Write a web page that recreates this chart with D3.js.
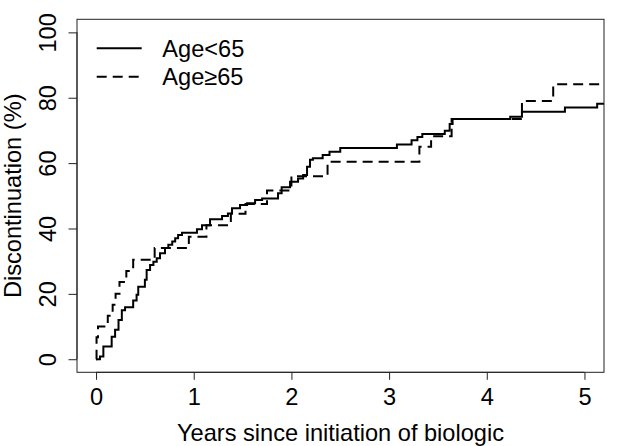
<!DOCTYPE html>
<html>
<head>
<meta charset="utf-8">
<script src="https://cdn.jsdelivr.net/npm/d3@7"></script>
<style>
  html, body { margin: 0; padding: 0; background: #fff; }
  svg { display: block; }
  text { font-family: "Liberation Sans", Arial, Helvetica, sans-serif; fill: #000; }
</style>
</head>
<body>
<svg id="chart" width="624" height="446"></svg>
<script>
// ---- data ----
const seriesNames = ["Age<65", "Age\u226565"];
const ageLt65Times  = [0, 0.04, 0.075, 0.16, 0.195, 0.23, 0.264, 0.297, 0.38, 0.415, 0.432, 0.5, 0.518, 0.553, 0.587, 0.621, 0.655, 0.706, 0.74, 0.78, 0.81, 0.84, 0.88, 1.033, 1.085, 1.167, 1.29, 1.35, 1.392, 1.474, 1.546, 1.628, 1.7, 1.863, 1.9, 1.986, 2.068, 2.12, 2.16, 2.19, 2.22, 2.32, 2.39, 2.5, 3.08, 3.23, 3.29, 3.34, 3.57, 3.62, 3.65, 4.24, 4.36, 4.8, 5.13, 5.2];
const ageLt65Values = [0, 0.8, 3.9, 6.9, 9, 12, 15, 15.9, 18, 19.7, 22.2, 24.3, 27.3, 28.8, 29.8, 30.9, 32.4, 34, 35, 36, 37, 38, 38.7, 39.8, 41, 42.8, 43.8, 44.6, 46.2, 47.2, 47.7, 48.7, 49.2, 50.8, 52.6, 54.3, 55.3, 56.4, 58.9, 61, 61.5, 62.5, 63.5, 64.6, 65.7, 67, 68, 68.9, 69.9, 72, 73.5, 74.2, 75.7, 77, 78.2, 78.2];
const ageGe65Times  = [0, 0.005, 0.02, 0.12, 0.17, 0.2, 0.24, 0.31, 0.38, 0.6, 0.95, 1.13, 1.38, 1.53, 1.75, 2.0, 2.37, 3.31, 3.43, 3.64, 4.36, 4.68, 5.2];
const ageGe65Values = [0, 6.7, 10, 13.3, 16.7, 20, 23.6, 27, 30.4, 34, 37.5, 41, 44.5, 47.5, 51.6, 56, 60.4, 65, 68.2, 73.5, 79, 84.1, 84.1];
const xTicks = [0, 1, 2, 3, 4, 5];
const yTicks = [0, 20, 40, 60, 80, 100];
const xLabel = "Years since initiation of biologic";
const yLabel = "Discontinuation (%)";

// ---- layout ----
const plot = { left: 77, right: 604, top: 19.3, bottom: 372.3 };
const fs = 23.6;
const svg = d3.select("#chart");

const x = d3.scaleLinear().domain([-0.195, 5.2]).range([plot.left, plot.right]);
const y = d3.scaleLinear().domain([-4, 104]).range([plot.bottom, plot.top]);

// clip
svg.append("defs").append("clipPath").attr("id", "clip")
  .append("rect")
  .attr("x", plot.left).attr("y", plot.top)
  .attr("width", plot.right - plot.left).attr("height", plot.bottom - plot.top);

// box
svg.append("rect")
  .attr("x", plot.left).attr("y", plot.top)
  .attr("width", plot.right - plot.left).attr("height", plot.bottom - plot.top)
  .attr("fill", "none").attr("stroke", "#222").attr("stroke-width", 1);

// x axis
const xAxis = d3.axisBottom(x).tickValues(xTicks).tickSize(7.5).tickPadding(4).tickFormat(d3.format("d"));
const gx = svg.append("g").attr("transform", `translate(0,${plot.bottom})`).call(xAxis);
gx.select(".domain").attr("d", `M${x(xTicks[0])},0H${x(xTicks[xTicks.length-1])}`).attr("stroke", "#222");
gx.selectAll(".tick line").attr("stroke", "#222");
gx.selectAll(".tick text").attr("font-size", fs).attr("font-family", "Liberation Sans, Arial, sans-serif").attr("dy", null).attr("y", 32.5);

// y axis
const yAxis = d3.axisLeft(y).tickValues(yTicks).tickSize(8.5).tickFormat(d3.format("d"));
const gy = svg.append("g").attr("transform", `translate(${plot.left},0)`).call(yAxis);
gy.select(".domain").attr("d", `M0,${y(yTicks[0])}V${y(yTicks[yTicks.length-1])}`).attr("stroke", "#222");
gy.selectAll(".tick line").attr("stroke", "#222");
gy.selectAll(".tick text")
  .attr("font-size", fs).attr("font-family", "Liberation Sans, Arial, sans-serif")
  .attr("x", null).attr("dy", null)
  .attr("text-anchor", "middle")
  .attr("transform", "translate(-21.5,0) rotate(-90)");

// axis titles
svg.append("text")
  .attr("x", (plot.left + plot.right) / 2).attr("y", 441)
  .attr("text-anchor", "middle").attr("font-size", fs)
  .text(xLabel);
svg.append("text")
  .attr("transform", `translate(21,${(plot.top + plot.bottom) / 2}) rotate(-90)`)
  .attr("text-anchor", "middle").attr("font-size", fs)
  .text(yLabel);

// curves
const line = d3.line().x(d => x(d[0])).y(d => y(d[1])).curve(d3.curveStepAfter);
const curves = [
  { times: ageLt65Times, values: ageLt65Values, dash: null },
  { times: ageGe65Times, values: ageGe65Values, dash: "10,6" }
];
const gc = svg.append("g").attr("clip-path", "url(#clip)");
curves.forEach(c => {
  const pts = c.times.map((t, i) => [t, c.values[i]]);
  gc.append("path")
    .attr("d", line(pts))
    .attr("fill", "none").attr("stroke", "#000").attr("stroke-width", 2)
    .attr("stroke-dasharray", c.dash);
});

// legend
const legend = svg.append("g");
seriesNames.forEach((name, i) => {
  const ly = 48.3 + i * 28.4;
  legend.append("line")
    .attr("x1", 96.7).attr("x2", 141.7).attr("y1", ly).attr("y2", ly)
    .attr("stroke", "#000").attr("stroke-width", 2)
    .attr("stroke-dasharray", curves[i].dash);
  legend.append("text")
    .attr("x", 162.3).attr("y", ly + 8.3)
    .attr("font-size", fs)
    .text(name);
});
</script>
</body>
</html>
